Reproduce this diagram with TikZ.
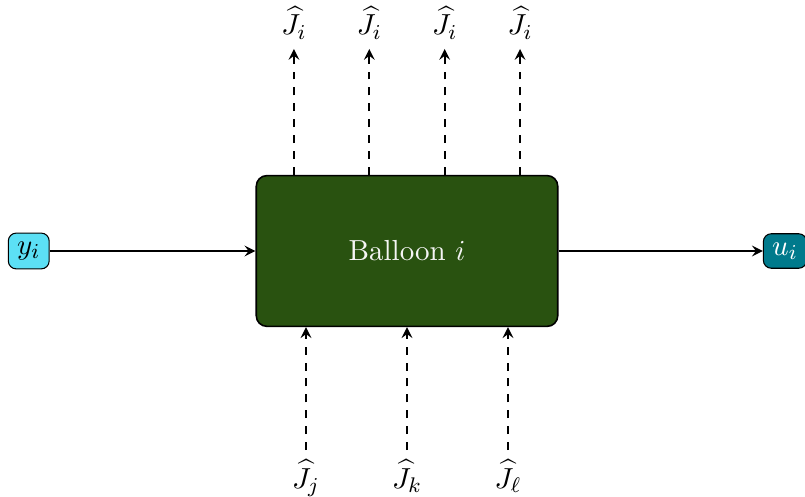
\documentclass[tikz,border=0pt]{standalone}
\usepackage{amsmath}
\usetikzlibrary{arrows,positioning,calc}
\definecolor{balloongreen}{RGB}{41,82,16}
\definecolor{inputcyan}{RGB}{92,224,245}
\definecolor{outputteal}{RGB}{0,122,140}
\begin{document}
\begin{tikzpicture}[->,>=stealth,thick,font=\fontsize{10.95}{13.6}\selectfont,
		block/.style={draw,semithick,fill=balloongreen,rounded corners=4pt,minimum width=4cm,minimum height=2cm,text=white!96!black},
		port/.style={draw,thin,rounded corners=3pt},
		flux/.style={dashed}]
		\useasboundingbox (-5.40,-3.26) rectangle (5.28,3.33);
		\node[block]                          (B)                         {Balloon $i$};
		\node[port,fill=inputcyan]            (Y)   [left=2.73cm of B]    {$y_i$};
		\node[port,fill=outputteal,text=white] (U)  [right=2.71cm of B]   {$u_i$};
		
		% couplings leaving the balloon
		\foreach \x [count=\n] in {-1.5,-0.5,0.5,1.5}{
			\coordinate (t\n) at ($(B.north)+(\x,0)$);
			\node (out\n) [above=1.67cm of t\n] {$\widehat{J}_i$};
			\draw[flux] (t\n) -- (out\n);
		}
		
		% couplings entering the balloon
		\foreach \x/\s [count=\n] in {-1.34/j,0/k,1.34/\ell}{
			\coordinate (b\n) at ($(B.south)+(\x,0)$);
			\node (in\n) [below=1.63cm of b\n] {$\widehat{J}_\s$};
			\draw[flux] (in\n) -- (b\n);
		}
		
		\path (Y)   edge   node {} (B)
		      (B)   edge   node {} (U);
\end{tikzpicture}
\end{document}
